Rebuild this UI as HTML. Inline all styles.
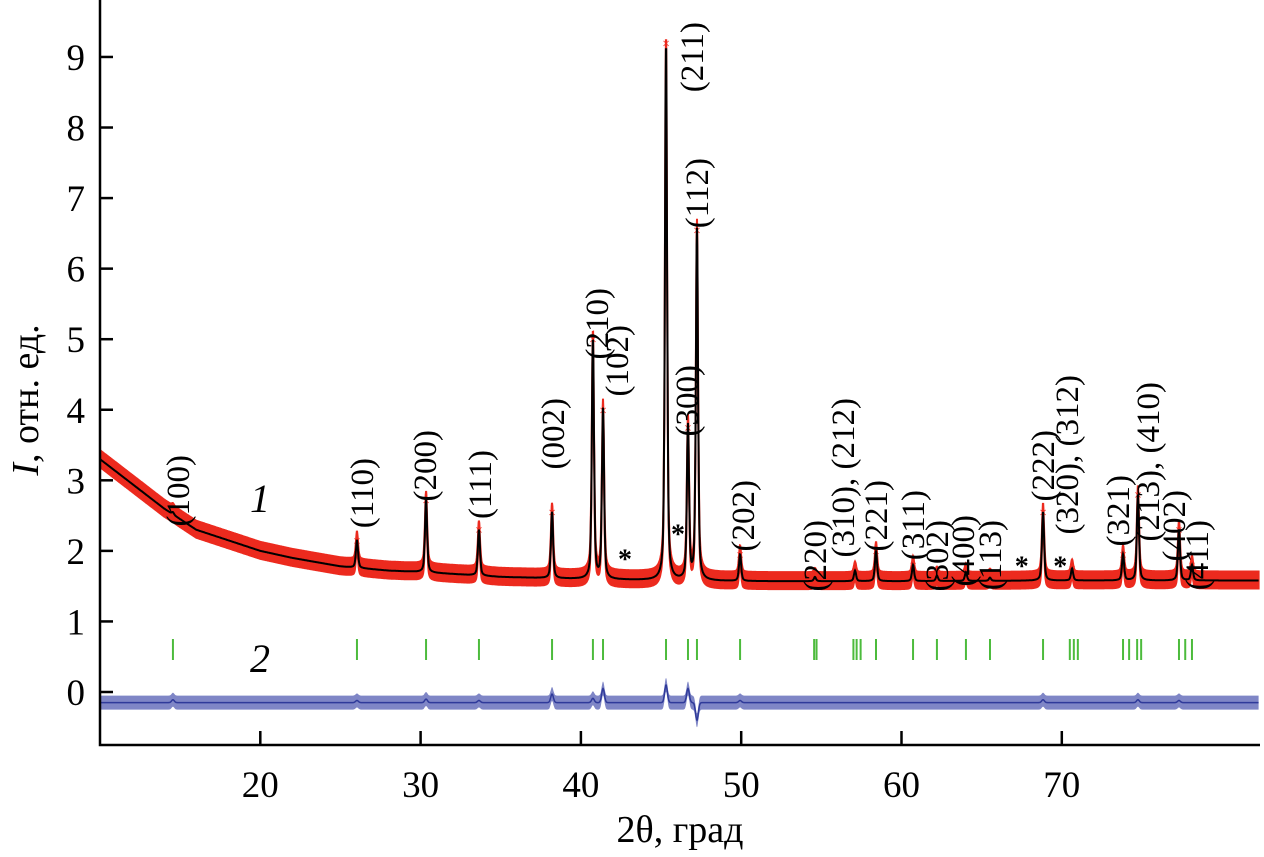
<!DOCTYPE html>
<html><head><meta charset="utf-8"><style>
html,body{margin:0;padding:0;background:#fff;}
svg{display:block;font-family:"Liberation Serif",serif;}
</style></head><body>
<svg id="chart" width="1264" height="857" viewBox="0 0 1264 857" xmlns="http://www.w3.org/2000/svg" style="position:absolute;left:0;top:0">
<g id="plot"></g>
<g id="axes"></g>
<text x="250" y="512" font-size="40" font-style="italic">1</text>
<text x="250" y="672" font-size="40" font-style="italic">2</text>
<text x="680" y="842" text-anchor="middle" font-size="38">2θ, град</text>
<text transform="translate(38,400) rotate(-90)" text-anchor="middle" font-size="38"><tspan font-style="italic">I</tspan>, отн. ед.</text>
</svg>
<script>
// ---- data ----
const peakPos = [14.55,26.03,30.34,33.64,38.2,40.75,41.38,45.31,46.68,47.24,49.93,54.6,57.1,58.41,60.72,62.21,64.02,65.52,68.83,70.64,73.82,74.75,77.31,78.12];
const peakTop = [2.55,2.15,2.72,2.3,2.55,5.0,4.0,9.2,3.75,6.55,1.95,1.63,1.72,2.0,1.8,1.65,1.7,1.62,2.55,1.75,1.95,2.8,2.3,1.8];
const bgX = [10,12,14,16,18,20,22,25,28,30,35,40,45,50,60,70,80,83];
const bgY = [3.3,2.95,2.6,2.3,2.15,2.0,1.9,1.78,1.72,1.7,1.63,1.6,1.58,1.57,1.57,1.58,1.58,1.58];
const braggPos = [14.55,26.03,30.34,33.64,38.2,40.75,41.38,45.31,46.68,47.24,49.93,54.55,54.7,57.0,57.2,57.45,58.41,60.72,62.21,64.02,65.52,68.83,70.5,70.75,71.0,73.82,74.2,74.7,74.95,77.31,77.7,78.12];
const residAmp = [0.04,0.03,0.05,0.03,0.12,0.06,0.2,0.25,0.2,-0.25,0.03,0,0,0,0,0,0,0,0.04,0,0,0.04,0.03,0];
const xTicks = [20,30,40,50,60,70];
const yTicks = [0,1,2,3,4,5,6,7,8,9];
const labels = [
 ["(100)",178,455],["(110)",362,458],["(200)",425,430],["(111)",480,450],["(002)",553,398],
 ["(210)",597,288],["(102)",617,325],["(300)",687,365],["(211)",692,22],["(112)",697,158],
 ["(202)",743,480],["(220)",815,520],["(310), (212)",843,398],["(221)",876,480],["(311)",913,490],
 ["(302)",937,520],["(400)",963,515],["(113)",990,520],["(222)",1043,430],["(320), (312)",1067,375],
 ["(321)",1118,475],["(213), (410)",1148,382],["(402)",1174,490],["(411)",1197,520]];
const stars = [[42.75,1.95],[46.06,2.3],[67.5,1.85],[69.9,1.85]];

// ---- axes functions ----
const X0=100, Y0=745, XR=1260;
const sx = v => 100 + (v-10)*16.03;
const sy = v => 692 - v*70.56;
const NS="http://www.w3.org/2000/svg";
const plot=document.getElementById('plot'), axes=document.getElementById('axes');
function mk(tag, attrs, parent){const e=document.createElementNS(NS,tag);for(const k in attrs)e.setAttribute(k,attrs[k]);parent.appendChild(e);return e;}
function bg(x){for(let i=0;i<bgX.length-1;i++){if(x<=bgX[i+1]){const t=(x-bgX[i])/(bgX[i+1]-bgX[i]);return bgY[i]+t*(bgY[i+1]-bgY[i]);}}return bgY[bgY.length-1];}
function calc(x){let y=bg(x);for(let i=0;i<peakPos.length;i++){const h=peakTop[i]-bg(peakPos[i]);const d=(x-peakPos[i])/0.08;y+=h*(0.5/(1+d*d)+0.5*Math.exp(-d*d*0.69));}return y;}
let pts=[], up=[], dn=[], dpts=[], dup=[], ddn=[];
for(let x=10.0;x<=82.3;x+=0.02){const c=calc(x);const X=sx(x).toFixed(1),Y=sy(c);
 pts.push(X+","+Y.toFixed(1));up.push(X+","+(Y-9).toFixed(1));dn.unshift(X+","+(Y+8).toFixed(1));
 let r=-0.15;for(let i=0;i<peakPos.length;i++){const d=(x-peakPos[i])/0.12;r+=residAmp[i]*Math.exp(-d*d);}
 const R=sy(r);dpts.push(X+","+R.toFixed(1));dup.push(X+","+(R-7).toFixed(1));ddn.unshift(X+","+(R+7).toFixed(1));}
let obs=mk('polygon',{points:up.concat(dn).join(' '),fill:'#ec2a1e',stroke:'#ec2a1e','stroke-width':2},plot);


for(let i=0;i<peakPos.length;i++){
 const m=mk('text',{x:sx(peakPos[i]),y:sy(peakTop[i])+5,'text-anchor':'middle','font-size':14,fill:'#ec2a1e'},plot);m.textContent='×';
 
 
}
let cl=mk('polyline',{points:pts.join(' '),fill:'none',stroke:'#000','stroke-width':2},plot);


let dl=mk('polygon',{points:dup.concat(ddn).join(' '),fill:'#7f86c6',stroke:'none'},plot);


let dl2=mk('polyline',{points:dpts.join(' '),fill:'none',stroke:'#2f3a9a','stroke-width':1.5},plot);


braggPos.forEach(p=>{const t=mk('line',{x1:sx(p),x2:sx(p),y1:639,y2:660,stroke:'#4cbb3c','stroke-width':2},plot);
 
 });
labels.forEach(l=>{const t=mk('text',{x:0,y:0,transform:`translate(${l[1]+11},${l[2]}) rotate(-90)`,'text-anchor':'end','font-size':33,fill:'#000'},plot);t.textContent=l[0];
 
 });
stars.forEach(s=>{const t=mk('text',{x:sx(s[0]),y:sy(s[1])+14,'text-anchor':'middle','font-size':28,'font-weight':'bold'},plot);t.textContent='*';
 
 });
let ax=mk('path',{d:`M${X0},0 L${X0},${Y0} L${XR},${Y0}`,fill:'none',stroke:'#000','stroke-width':2.5},axes);


xTicks.forEach(v=>{mk('line',{x1:sx(v),x2:sx(v),y1:Y0,y2:Y0-14,stroke:'#000','stroke-width':2.5},axes);
 const t=mk('text',{x:sx(v),y:797,'text-anchor':'middle','font-size':37},axes);t.textContent=v;
 
 });
yTicks.forEach(v=>{mk('line',{x1:X0,x2:X0+13,y1:sy(v),y2:sy(v),stroke:'#000','stroke-width':2.5},axes);
 const t=mk('text',{x:85,y:sy(v)+13,'text-anchor':'end','font-size':37},axes);t.textContent=v;
 
 });
</script>
</body></html>
